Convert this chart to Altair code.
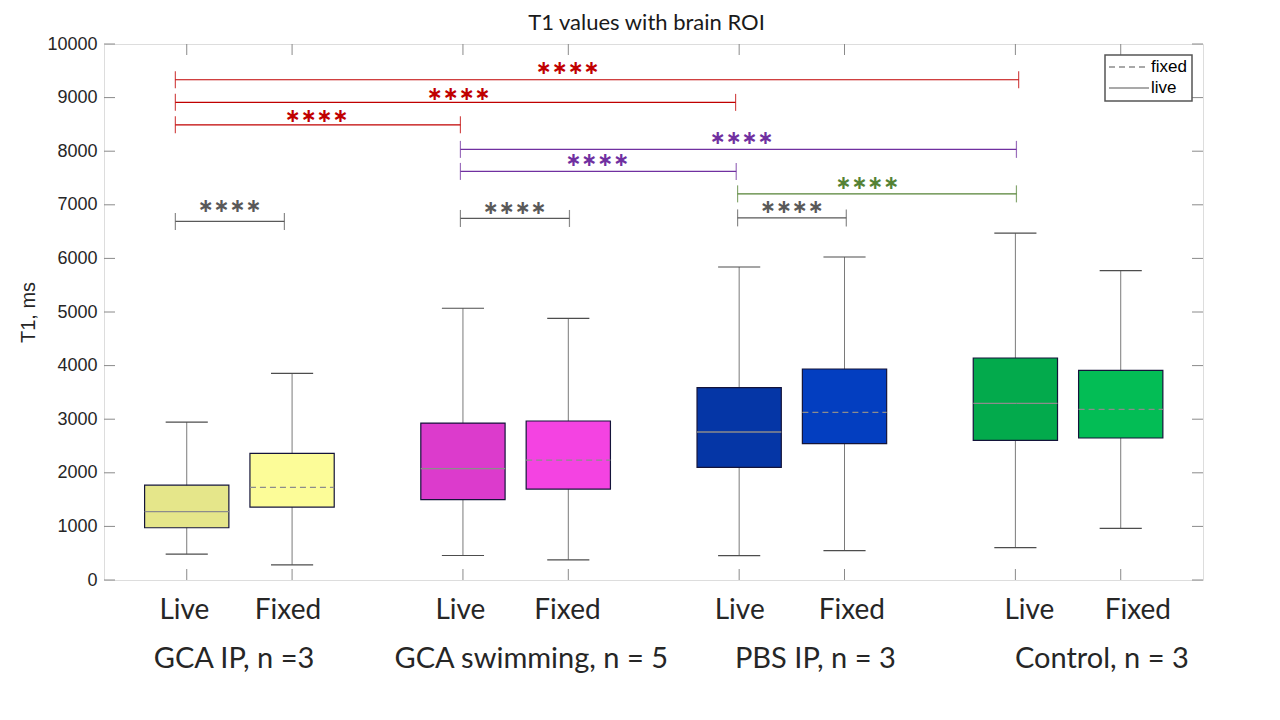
import altair as alt
import pandas as pd

# ---------------- data ----------------
chart_title = "T1 values with brain ROI"
groups = ["GCA IP, n =3", "GCA swimming, n = 5", "PBS IP, n = 3", "Control, n = 3"]
conditions = ["Live", "Fixed"]
box_colors = ["#e5e68a", "#fcfc98", "#dc3bcc", "#f443e2",
              "#0536a6", "#033ec0", "#03aa4c", "#03bd55"]
lower_whisker = [482, 284, 457, 377, 454, 547, 603, 964]
q1_values = [975, 1360, 1498, 1696, 2102, 2543, 2606, 2649]
medians = [1274, 1727, 2077, 2237, 2761, 3128, 3296, 3184]
q3_values = [1770, 2362, 2928, 2966, 3588, 3937, 4142, 3912]
upper_whisker = [2947, 3856, 5070, 4880, 5840, 6026, 6470, 5771]

# significance brackets (x in box-position units, y in ms)
br_from = [0.892, 0.892, 0.892, 3.598, 3.598, 6.229, 0.892, 3.598, 6.229]
br_to = [8.897, 6.210, 3.598, 8.876, 6.216, 8.876, 1.927, 4.633, 7.261]
br_level = [9333, 8911, 8493, 8034, 7623, 7204, 6689, 6745, 6756]
br_star_x = [4.616, 3.581, 2.233, 6.267, 4.897, 7.461, 1.406, 4.113, 6.744]
br_star_y = [9561, 9076, 8650, 8254, 7834, 7399, 6975, 6947, 6965]
br_color = ["#c00000", "#c00000", "#c00000", "#7030a0", "#7030a0",
            "#548235", "#595959", "#595959", "#595959"]
br_text = ["\u2217\u2217\u2217\u2217"] * 9

y_ticks = list(range(0, 10001, 1000))
cond_label_x = [0.978, 1.961, 3.598, 4.614, 6.249, 7.313, 8.999, 10.029]
group_label_x = [1.449, 4.270, 6.967, 9.687]
legend_labels = ["fixed", "live"]

# ---------------- tables ----------------
GROUP_STEP = 2.622
rows = []
for gi, g in enumerate(groups):
    for ci, c in enumerate(conditions):
        k = gi * 2 + ci
        rows.append(dict(group=g, cond=c, kind=c.lower(),
                         pos=1 + GROUP_STEP * gi + ci,
                         lw=lower_whisker[k], q1=q1_values[k], med=medians[k],
                         q3=q3_values[k], uw=upper_whisker[k], color=box_colors[k],
                         lx=cond_label_x[k]))
boxes = pd.DataFrame(rows)
brackets = pd.DataFrame(dict(x1=br_from, x2=br_to, y=br_level, sx=br_star_x,
                             sy=br_star_y, color=br_color, stars=br_text))
ticks = pd.DataFrame(dict(v=y_ticks))
glabels = pd.DataFrame(dict(name=groups, gx=group_label_x))

W, H = 1099, 536
AX = "#8a8a8a"
xs = alt.Scale(domain=[0.2146, 10.647], nice=False, zero=False)
ys = alt.Scale(domain=[0, 10000], nice=False, zero=False)
yaxis = alt.Axis(values=y_ticks, format="d", ticks=False, domain=False, grid=False,
                 labelFont="Liberation Sans", labelFontSize=18, labelColor="#262626",
                 labelPadding=7, title="T1, ms", titleFont="Liberation Sans",
                 titleFontSize=20, titleFontWeight="normal", titleColor="#262626",
                 titleX=-76, titleY=H / 2, titleAngle=270, titleAlign="center",
                 titleBaseline="middle")


def X(f):
    return alt.X(f, type="quantitative", scale=xs, axis=None)


def Y(f):
    return alt.Y(f, type="quantitative", scale=ys, axis=yaxis)


bx = alt.Chart(boxes).transform_calculate(
    bl="datum.pos - 0.4", br="datum.pos + 0.4",
    cl="datum.pos - 0.2", cr="datum.pos + 0.2")

whisk = bx.mark_rule(color="#7a7a7a", strokeWidth=1).encode(
    x=X("pos"), y=Y("lw"), y2="uw")
cap_hi = bx.mark_rule(color="#4d4d4d", strokeWidth=1.2).encode(
    x=X("cl"), x2="cr", y=Y("uw"))
cap_lo = bx.mark_rule(color="#4d4d4d", strokeWidth=1.2).encode(
    x=X("cl"), x2="cr", y=Y("lw"))
box = bx.mark_rect(stroke="#14143a", strokeWidth=1.2).encode(
    x=X("bl"), x2="br", y=Y("q1"), y2="q3",
    fill=alt.Fill("color:N", scale=None))
med = bx.mark_rule(color="#8c8c8c", strokeWidth=1.3).encode(
    x=X("bl"), x2="br", y=Y("med"),
    strokeDash=alt.StrokeDash("kind:N", legend=None,
                              scale=alt.Scale(domain=["fixed", "live"],
                                              range=[[6, 4], [1, 0]])))

bk = alt.Chart(brackets)
br_line = bk.mark_rule(strokeWidth=1.2).encode(
    x=X("x1"), x2="x2", y=Y("y"), color=alt.Color("color:N", scale=None))
br_t1 = bk.mark_tick(orient="vertical", size=17, thickness=1.2).encode(
    x=X("x1"), y=Y("y"), color=alt.Color("color:N", scale=None))
br_t2 = bk.mark_tick(orient="vertical", size=17, thickness=1.2).encode(
    x=X("x2"), y=Y("y"), color=alt.Color("color:N", scale=None))
stars = bk.mark_text(font="DejaVu Sans", fontSize=19, fontWeight="bold",
                     baseline="middle", align="center").encode(
    x=X("sx"), y=Y("sy"), text="stars:N", color=alt.Color("color:N", scale=None))

tk = alt.Chart(ticks)
t_left = tk.mark_rule(color=AX, strokeWidth=1).encode(
    x=alt.value(0), x2=alt.value(11), y=Y("v"))
t_right = tk.mark_rule(color=AX, strokeWidth=1).encode(
    x=alt.value(W - 11), x2=alt.value(W), y=Y("v"))
t_bottom = alt.Chart(boxes).mark_rule(color=AX, strokeWidth=1).encode(
    x=X("pos"), y=alt.value(H - 11), y2=alt.value(H))
t_top = alt.Chart(boxes).mark_rule(color=AX, strokeWidth=1).encode(
    x=X("pos"), y=alt.value(0), y2=alt.value(11))

cond_txt = alt.Chart(boxes).mark_text(font="Lato", fontSize=28, color="#262626",
                                      baseline="middle", align="center").encode(
    x=X("lx"), y=alt.value(567), text="cond:N")
grp_txt = alt.Chart(glabels).mark_text(font="Lato", fontSize=29, color="#262626",
                                       baseline="middle", align="center").encode(
    x=X("gx"), y=alt.value(615), text="name:N")

title_txt = alt.Chart(pd.DataFrame(dict(t=[chart_title]))).mark_text(
    font="Lato", fontSize=22, color="#1a1a1a", align="center",
    baseline="alphabetic").encode(x=alt.value(W / 2 - 7), y=alt.value(-14), text="t:N")

# legend (manual, top-right box)
lg = alt.Chart(pd.DataFrame(dict(label=legend_labels)))
lg_box = lg.transform_filter("datum.label == 'fixed'").mark_rect(
    fill="white", stroke="#555555", strokeWidth=1.5).encode(
    x=alt.value(1001), x2=alt.value(1088), y=alt.value(11), y2=alt.value(57))
lg_fixed = lg.transform_filter("datum.label == 'fixed'").mark_rule(
    color="#8c8c8c", strokeWidth=1.3, strokeDash=[6, 4]).encode(
    x=alt.value(1005), x2=alt.value(1045), y=alt.value(23))
lg_live = lg.transform_filter("datum.label == 'live'").mark_rule(
    color="#8c8c8c", strokeWidth=1.3).encode(
    x=alt.value(1005), x2=alt.value(1045), y=alt.value(44))
lg_t1 = lg.transform_filter("datum.label == 'fixed'").mark_text(
    font="Liberation Sans", fontSize=17, color="#000000", align="left",
    baseline="middle").encode(x=alt.value(1047), y=alt.value(23), text="label:N")
lg_t2 = lg.transform_filter("datum.label == 'live'").mark_text(
    font="Liberation Sans", fontSize=17, color="#000000", align="left",
    baseline="middle").encode(x=alt.value(1047), y=alt.value(44), text="label:N")

chart = alt.layer(
    whisk, cap_hi, cap_lo, box, med,
    br_line, br_t1, br_t2, stars,
    t_left, t_right, t_bottom, t_top,
    cond_txt, grp_txt, title_txt,
    lg_box, lg_fixed, lg_live, lg_t1, lg_t2,
).properties(
    width=W, height=H,
    autosize="none",
    padding={"left": 96, "top": 36, "right": 60, "bottom": 130},
).configure_view(stroke=AX, strokeWidth=1.5).configure(background="white")

chart.save("out.html", embed_options={"renderer": "svg", "actions": False})
